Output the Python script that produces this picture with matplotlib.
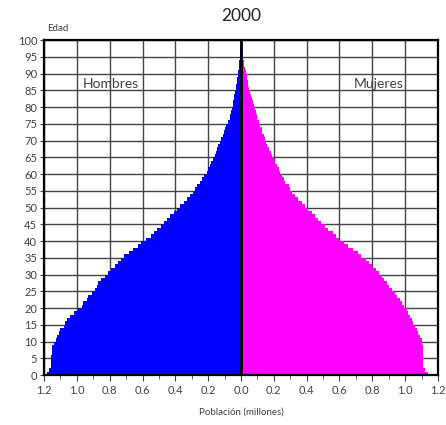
import numpy as np
import matplotlib.pyplot as plt
from matplotlib.ticker import MultipleLocator, FuncFormatter

plt.rc('font', family=['Lato', 'DejaVu Sans'])

# single-year ages 0..100, population in millions
ages = np.arange(0, 101)
hombres = [1.18, 1.17, 1.16, 1.155, 1.155, 1.155, 1.15, 1.15, 1.15, 1.14,
           1.13, 1.12, 1.11, 1.10, 1.08, 1.07, 1.06, 1.04, 1.02, 0.99,
           0.97, 0.96, 0.94, 0.93, 0.91, 0.89, 0.88, 0.87, 0.85, 0.83,
           0.81, 0.79, 0.77, 0.75, 0.73, 0.71, 0.68, 0.66, 0.63, 0.61,
           0.58, 0.55, 0.53, 0.51, 0.49, 0.47, 0.45, 0.43, 0.41, 0.39,
           0.37, 0.35, 0.33, 0.31, 0.29, 0.28, 0.27, 0.25, 0.24, 0.225,
           0.21, 0.20, 0.19, 0.18, 0.17, 0.16, 0.155, 0.145, 0.14, 0.13,
           0.12, 0.11, 0.105, 0.10, 0.09, 0.08, 0.07, 0.065, 0.06, 0.055,
           0.05, 0.047, 0.044, 0.04, 0.037, 0.033, 0.03, 0.027, 0.024, 0.021,
           0.018, 0.015, 0.012, 0.010, 0.008, 0.006, 0.005, 0.004, 0.003, 0.002,
           0.002]
mujeres = [1.14, 1.12, 1.11, 1.11, 1.11, 1.11, 1.11, 1.11, 1.11, 1.105,
           1.10, 1.09, 1.08, 1.07, 1.06, 1.05, 1.04, 1.03, 1.02, 1.01,
           0.99, 0.98, 0.97, 0.95, 0.94, 0.92, 0.90, 0.89, 0.87, 0.86,
           0.84, 0.82, 0.80, 0.78, 0.76, 0.73, 0.71, 0.68, 0.65, 0.63,
           0.60, 0.58, 0.56, 0.53, 0.51, 0.49, 0.47, 0.45, 0.43, 0.41,
           0.39, 0.37, 0.35, 0.33, 0.31, 0.30, 0.29, 0.27, 0.26, 0.25,
           0.24, 0.23, 0.22, 0.21, 0.20, 0.19, 0.18, 0.17, 0.16, 0.15,
           0.145, 0.14, 0.13, 0.125, 0.115, 0.11, 0.10, 0.095, 0.09, 0.085,
           0.08, 0.075, 0.07, 0.06, 0.055, 0.05, 0.045, 0.04, 0.035, 0.035,
           0.03, 0.025, 0.02, 0.017, 0.015, 0.012, 0.01, 0.008, 0.006, 0.004,
           0.003]

fig = plt.figure(figsize=(4.46, 4.25), dpi=100)
ax = fig.add_axes([0.0987, 0.1176, 0.8833, 0.7882])

ax.barh(ages, -np.array(hombres), height=1.0, align='edge', color='#0000ff',
        linewidth=0, zorder=2)
ax.barh(ages, mujeres, height=1.0, align='edge', color='#ff00ff',
        linewidth=0, zorder=2)
ax.axvline(0, color='black', lw=2, zorder=3)

ax.set_xlim(-1.2, 1.2)
ax.set_ylim(0, 100)
ax.xaxis.set_major_locator(MultipleLocator(0.2))
ax.xaxis.set_minor_locator(MultipleLocator(0.1))
ax.yaxis.set_major_locator(MultipleLocator(5))
ax.xaxis.set_major_formatter(FuncFormatter(lambda v, p: "%.1f" % abs(v)))

ax.grid(True, which='major', color='#444444', lw=1.0, zorder=1)
ax.set_axisbelow(True)
for s in ax.spines.values():
    s.set_linewidth(1.6)
    s.set_zorder(4)

ax.tick_params(which='both', direction='out', labelsize=8, colors='#404040',
               labelcolor='#404040')
ax.tick_params(which='major', length=4)
ax.tick_params(which='minor', length=3)
ax.tick_params(axis='y', length=3, pad=2)

ax.text(-0.79, 87, 'Hombres', fontsize=10, color='#404040', ha='center',
        va='center', zorder=0.1)
ax.text(0.84, 87, 'Mujeres', fontsize=10, color='#404040', ha='center',
        va='center', zorder=0.1)

ax.set_xlabel('Población (millones)', fontsize=7, color='#404040', labelpad=8)
fig.text(0.105, 0.928, 'Edad', fontsize=7, color='#404040')
fig.text(0.54, 0.962, '2000', fontsize=12.5, color='#222222', ha='center',
         va='center')

fig.savefig('out.png', dpi=100)
